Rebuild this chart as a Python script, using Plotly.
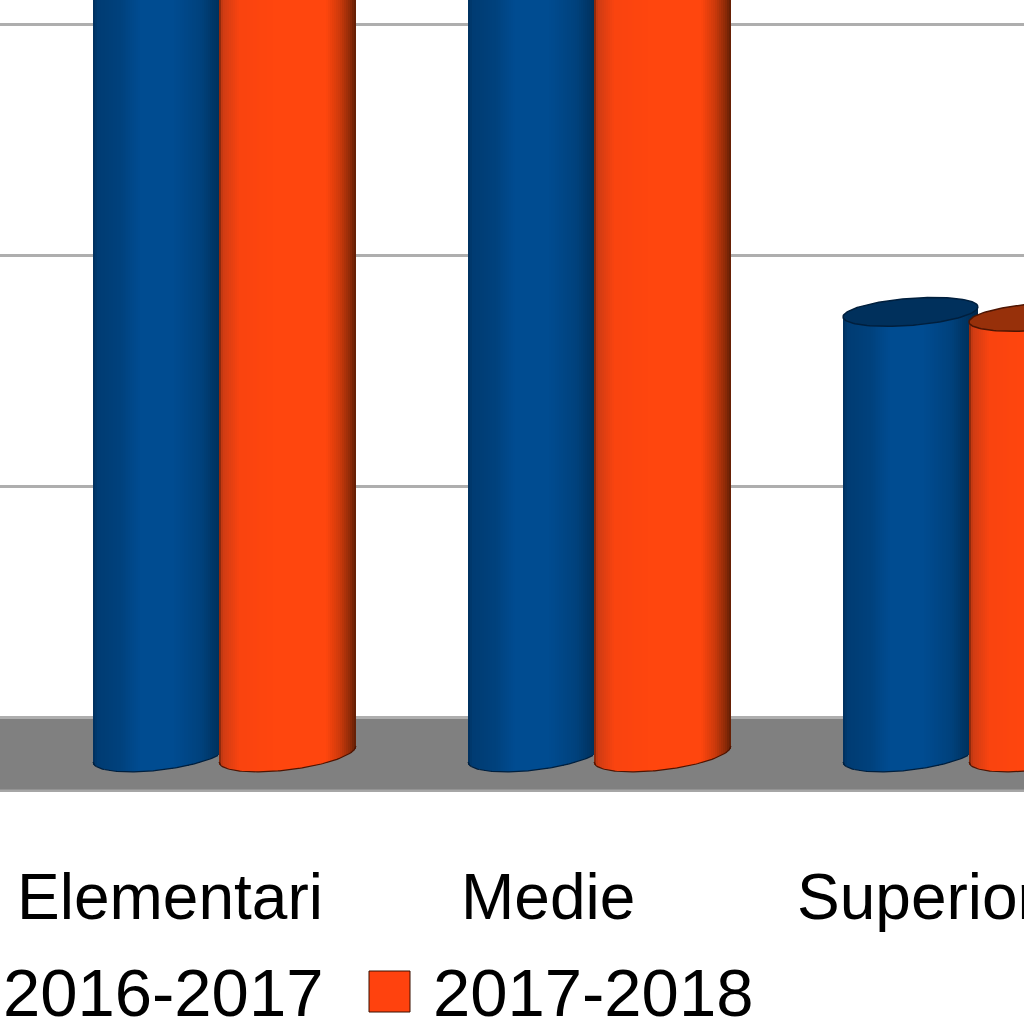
import numpy as np
import plotly.graph_objects as go

# ---- data (axis units; gridlines every 10) ----
categories = ["Elementari", "Medie", "Superiori"]
label_positions = [0, 1.008, 2.013]
bar_positions = [0, 1, 2]
tick_positions = [0, 10, 20, 30]
series_names = ["2016-2017", "2017-2018"]
values_2016 = [36.0, 36.5, 17.56]
values_2017 = [36.5, 37.0, 17.34]

# ---- geometry and style ----
W, H = 1024, 1024
PLOT_BOTTOM = 792
PX_X = 375.0
PX_Y = 23.07
Y0_PX = 717
X0_PX = 170
BASE_Y = (Y0_PX - 754) / PX_Y
BOTTOM_B, BOTTOM_S = 16, 8
TOP_B, TOP_S = 13.5, 5
STRIP_PX = 2

x_range = [-X0_PX / PX_X, (W - X0_PX) / PX_X]
y_range = [(Y0_PX - PLOT_BOTTOM) / PX_Y, Y0_PX / PX_Y]


def lerp_profile(t, stops):
    ts = [s[0] for s in stops]
    return [np.interp(t, ts, [s[1][k] for s in stops]) for k in range(3)]


BLUE_STOPS = [(0, (0, 48, 92)), (0.03, (0, 60, 115)), (0.2, (0, 66, 125)), (0.35, (0, 76, 145)),
              (0.6, (0, 76, 145)), (0.8, (0, 66, 125)), (0.93, (0, 50, 94)), (1, (0, 38, 72))]
ORANGE_STOPS = [(0, (120, 35, 10)), (0.025, (205, 60, 20)), (0.15, (250, 68, 16)), (0.4, (255, 70, 14)),
                (0.78, (255, 70, 14)), (0.88, (205, 58, 12)), (0.96, (140, 42, 8)), (1, (95, 30, 5))]

SERIES = [
    dict(name=series_names[0], values=values_2016, offset=-9.5, width=135, visible=125, stops=BLUE_STOPS,
         cap="#00305c", edge="#001f3d"),
    dict(name=series_names[1], values=values_2017, offset=117.5, width=137, visible=137, stops=ORANGE_STOPS,
         cap="#97300a", edge="#4d1503"),
]

fig = go.Figure()

for s in SERIES:
    half = s["width"] / 2
    for pos, value in zip(bar_positions, s["values"]):
        cx = pos + s["offset"] / PX_X
        n = int(round(s["width"] / STRIP_PX))
        ts = (np.arange(n) + 0.5) / n * 2 - 1
        xs = cx + ts * half / PX_X
        bot = BASE_Y - (BOTTOM_B * np.sqrt(1 - ts ** 2) - BOTTOM_S * ts) / PX_Y
        top = value + TOP_S * ts / PX_Y
        colors = ["rgb(%d,%d,%d)" % tuple(lerp_profile((t + 1) / 2, s["stops"])) for t in ts]
        fig.add_trace(go.Bar(x=xs, y=top - bot, base=bot, width=STRIP_PX / PX_X * 1.25,
                             marker=dict(color=colors, line=dict(width=0)),
                             name=s["name"], showlegend=False, hoverinfo="skip"))
        # bottom outline (only the part not hidden by the neighbouring cylinder)
        tb = np.linspace(-1, 2 * s["visible"] / s["width"] - 1, 80)
        fig.add_trace(go.Scatter(x=cx + tb * half / PX_X,
                                 y=BASE_Y - (BOTTOM_B * np.sqrt(1 - tb ** 2) - BOTTOM_S * tb) / PX_Y,
                                 mode="lines", line=dict(color=s["edge"], width=1.2),
                                 showlegend=False, hoverinfo="skip"))
        # top ellipse
        a = np.linspace(0, 2 * np.pi, 120)
        fig.add_trace(go.Scatter(x=cx + np.cos(a) * half / PX_X,
                                 y=value + (TOP_S * np.cos(a) + TOP_B * np.sin(a)) / PX_Y,
                                 mode="lines", fill="toself", fillcolor=s["cap"],
                                 line=dict(color=s["edge"], width=1.5),
                                 showlegend=False, hoverinfo="skip"))

label_font = dict(size=64, family="Liberation Sans", color="#000000")
legend_font = dict(size=67, family="Liberation Sans", color="#000000")


def paper_y(py):
    return (PLOT_BOTTOM - py) / PLOT_BOTTOM


annotations = [
    dict(text=c, xref="x", yref="paper", x=p, y=paper_y(897), xanchor="center", yanchor="middle",
         showarrow=False, font=label_font)
    for c, p in zip(categories, label_positions)
]
annotations += [
    dict(text=series_names[0], xref="x", yref="paper", x=(325 - X0_PX) / PX_X, y=paper_y(992),
         xanchor="right", yanchor="middle", showarrow=False, font=legend_font),
    dict(text=series_names[1], xref="x", yref="paper", x=(431 - X0_PX) / PX_X, y=paper_y(992),
         xanchor="left", yanchor="middle", showarrow=False, font=legend_font),
]

fig.update_layout(
    width=W, height=H, autosize=False,
    margin=dict(l=0, r=0, t=0, b=H - PLOT_BOTTOM, pad=0),
    paper_bgcolor="#ffffff", plot_bgcolor="#ffffff",
    barmode="overlay", bargap=0, showlegend=False,
    font=dict(family="Liberation Sans", color="#000000"),
    xaxis=dict(range=x_range, showticklabels=False, ticks="", showgrid=False, zeroline=False,
               showline=False, automargin=False),
    yaxis=dict(range=y_range, tickmode="array", tickvals=tick_positions, showticklabels=False,
               ticks="", showgrid=True, gridcolor="#aeaeae", gridwidth=3, zeroline=False,
               showline=False, automargin=False),
    shapes=[
        dict(type="rect", layer="below", xref="paper", yref="y", x0=0, x1=1,
             y0=y_range[0], y1=0, fillcolor="#808080", line=dict(width=0)),
        dict(type="rect", layer="below", xref="paper", yref="y", x0=0, x1=1,
             y0=y_range[0], y1=y_range[0] + 2.5 / PX_Y, fillcolor="#a6a6a6", line=dict(width=0)),
        # legend swatch of the second series
        dict(type="rect", xref="x", yref="paper", x0=(369 - X0_PX) / PX_X, x1=(410 - X0_PX) / PX_X,
             y0=paper_y(1012), y1=paper_y(971),
             fillcolor="#ff420e", line=dict(color="#3a1000", width=1)),
    ],
    annotations=annotations,
)

fig.write_html("out.html", config=dict(displayModeBar=False),
               post_script="document.body.style.margin='0';document.body.style.overflow='hidden';")
